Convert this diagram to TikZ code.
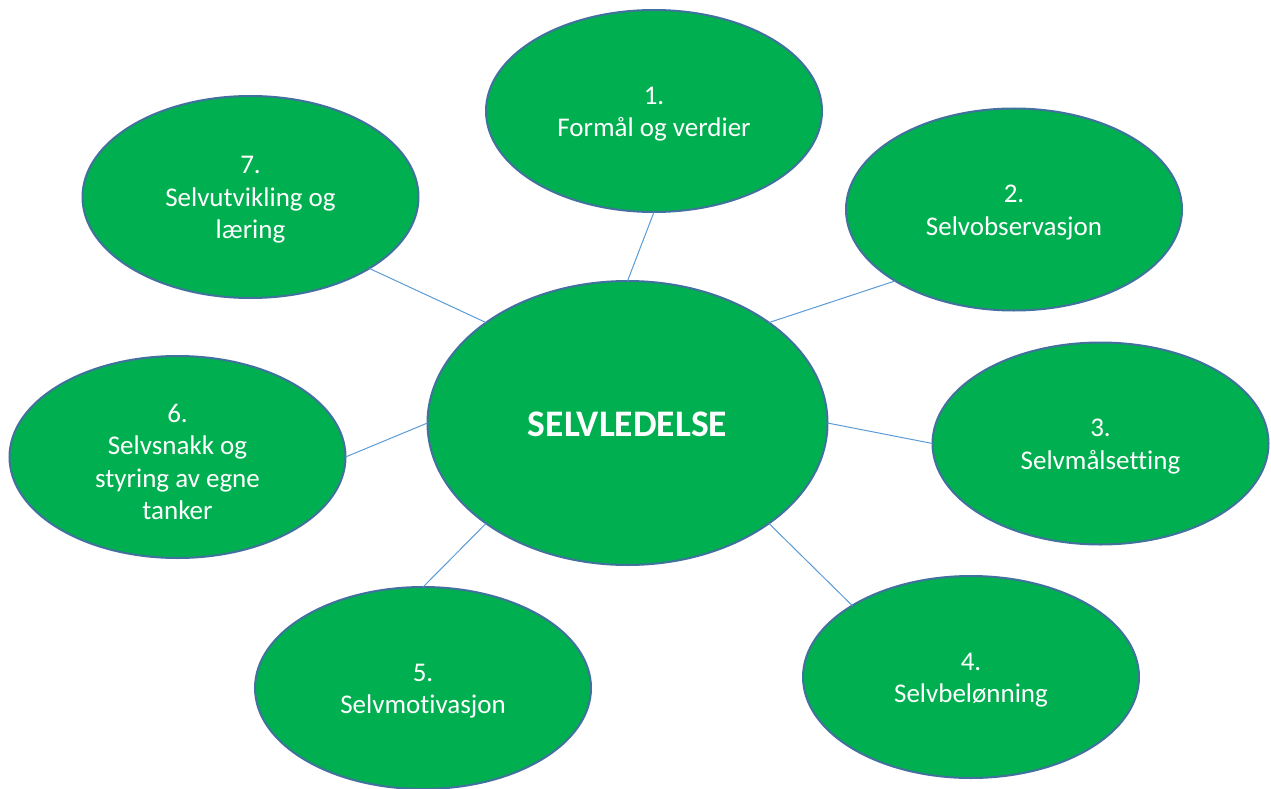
\documentclass[tikz,border=0pt]{standalone}
\usepackage{fontspec}
\setmainfont{Carlito}[Ligatures=NoCommon]
\usetikzlibrary{shapes.geometric}
\definecolor{leafgreen}{HTML}{00B050}
\definecolor{rimblue}{HTML}{41719C}
\definecolor{linkblue}{HTML}{5B9BD5}
\begin{document}
\begin{tikzpicture}[x=1pt, y=-1pt,
  bubble/.style={ellipse, draw=rimblue, line width=2pt, fill=leafgreen,
    inner sep=0pt, outer sep=0pt,
    minimum width=336pt, minimum height=202pt},
  hub/.style={bubble, minimum width=400pt, minimum height=284pt},
  caption/.style={text=white, inner sep=0pt, align=center,
    font=\fontsize{27}{32.5}\selectfont},
  hubcaption/.style={caption, font=\bfseries\fontsize{37.5}{44}\selectfont},
  link/.style={draw=linkblue, line width=1pt}]
\useasboundingbox (0,0) rectangle (1271,789);

% central topic and the seven parts around it
\node[hub]    (hub) at (627.5,423)   {};
\node[bubble] (b1)  at (654,111)     {};
\node[bubble] (b2)  at (1014,209.5)  {};
\node[bubble] (b3)  at (1100.5,443.5){};
\node[bubble] (b4)  at (971,677)     {};
\node[bubble] (b5)  at (423,688)     {};
\node[bubble] (b6)  at (177.5,457)   {};
\node[bubble] (b7)  at (250.5,197)   {};

% captions, set a little below each centre
\node[hubcaption] (thub) at ([yshift=-1pt]hub.center) {SELVLEDELSE};
\node[caption] (t1) at ([yshift=-3pt]b1.center) {1.\\Formål og verdier};
\node[caption] (t2) at ([yshift=-3pt]b2.center) {2.\\Selvobservasjon};
\node[caption] (t3) at ([yshift=-3pt]b3.center) {3.\\Selvmålsetting};
\node[caption] (t4) at ([yshift=-3pt]b4.center) {4.\\Selvbelønning};
\node[caption] (t5) at ([yshift=-3pt]b5.center) {5.\\Selvmotivasjon};
\node[caption] (t6) at ([yshift=-5pt]b6.center) {6.\\Selvsnakk og\\styring av egne\\tanker};
\node[caption] (t7) at ([yshift=-3pt]b7.center) {7.\\Selvutvikling og\\læring};

% spokes
\draw[link] (hub.north)      -- (b1.south);
\draw[link] (hub.north east) -- (b2.south west);
\draw[link] (hub.east)       -- (b3.west);
\draw[link] (hub.south east) -- (b4.north west);
\draw[link] (hub.south west) -- (b5.north);
\draw[link] (hub.west)       -- (b6.east);
\draw[link] (hub.north west) -- (b7.south east);
\end{tikzpicture}
\end{document}
